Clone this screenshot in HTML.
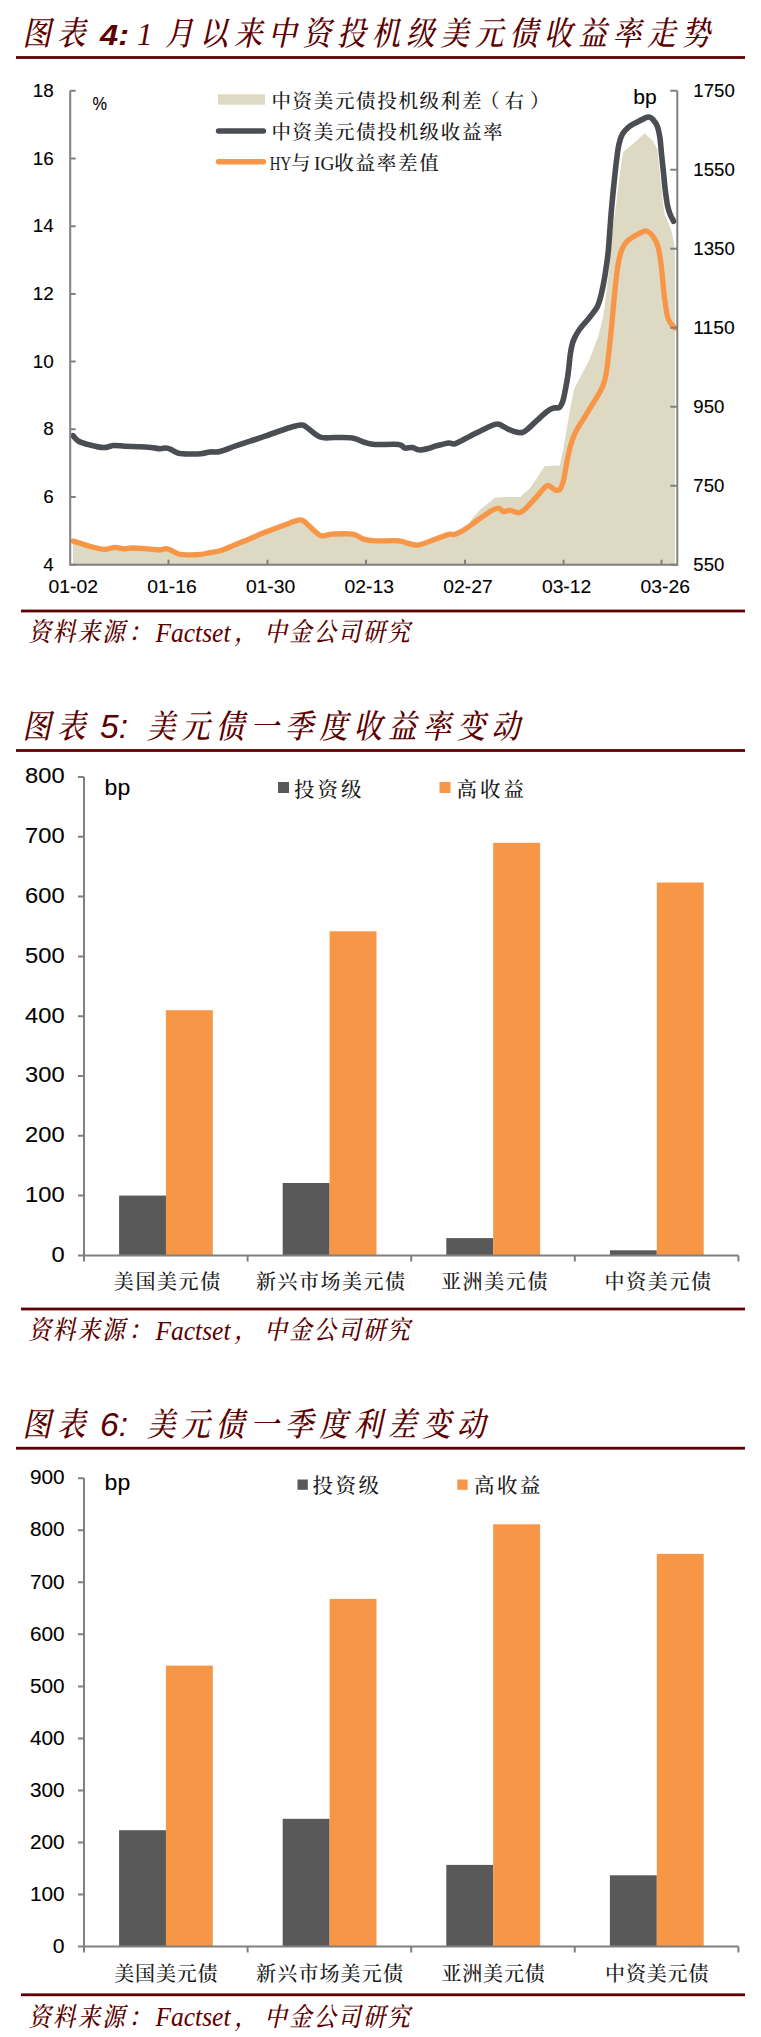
<!DOCTYPE html>
<html lang="zh-CN"><head><meta charset="utf-8"><title>美元债图表</title>
<style>
html,body{margin:0;padding:0;background:#fff;}
svg{display:block;}
.tt{font-family:'Liberation Serif','Noto Serif CJK SC',serif;font-size:33px;font-weight:500;font-style:italic;fill:#5c0000;}
.tn{font-family:'Liberation Sans','Noto Sans CJK SC',sans-serif;font-size:30px;font-style:italic;fill:#5c0000;}
.tl{font-family:'Liberation Serif','Noto Serif CJK SC',serif;font-size:31px;font-style:italic;fill:#5c0000;}
.st{font-family:'Liberation Serif','Noto Serif CJK SC',serif;font-size:26px;font-weight:500;font-style:italic;fill:#5c0000;}
.sl{font-family:'Liberation Serif','Noto Serif CJK SC',serif;font-size:26.5px;font-style:italic;fill:#5c0000;}
.ax{font-family:'Liberation Sans','Noto Sans CJK SC',sans-serif;font-size:17.5px;fill:#000;stroke:#000;stroke-width:0.1px;}
.bx{font-family:'Liberation Sans','Noto Sans CJK SC',sans-serif;font-size:20px;fill:#000;stroke:#000;stroke-width:0.1px;}
.lg{font-family:'Liberation Serif','Noto Serif CJK SC',serif;font-size:19.5px;font-weight:500;fill:#1a1a1a;}
.lb{font-family:'Liberation Serif','Noto Serif CJK SC',serif;font-size:20px;font-weight:500;fill:#1a1a1a;}
.lk{font-family:'Liberation Serif','Noto Serif CJK SC',serif;font-size:20.5px;font-weight:500;fill:#1a1a1a;}
</style></head>
<body>
<svg width="761" height="2037" viewBox="0 0 761 2037">
<rect width="761" height="2037" fill="#fff"/>
<text class="tt" transform="scale(0.86,1)" y="45.5" x="26.2 66.3">图表</text>
<text class="tn" y="44.5" x="100" textLength="29" lengthAdjust="spacingAndGlyphs" font-weight="bold">4:</text>
<text class="tl" y="44.5" x="137">1</text>
<text class="tt" transform="scale(0.86,1)" y="45.5" x="191.9 231.9 272.0 312.0 352.1 392.2 432.2 472.3 512.3 552.4 592.4 632.5 672.6 712.6 752.7 792.7">月以来中资投机级美元债收益率走势</text>
<rect x="16" y="56.1" width="729" height="2.8" fill="#5c0000"/>
<g id="c1">
<polygon fill="#ddd9c3" points="73.0,565.0 73.0,542.5 87.5,547.1 103.7,550.8 115.0,548.8 123.7,550.3 132.4,549.5 147.4,550.3 160.0,551.3 166.0,550.1 171.0,551.8 178.6,555.5 190.0,556.3 201.0,555.8 210.0,554.1 220.0,552.3 235.0,546.3 250.0,540.3 265.0,533.8 290.0,524.4 300.0,521.4 305.4,523.9 320.0,536.8 332.4,535.6 352.4,535.6 363.6,540.6 374.8,542.3 398.6,542.3 407.3,544.6 418.5,546.5 435.0,540.8 448.7,535.8 455.0,535.8 465.0,530.8 471.2,519.8 480.0,509.8 495.0,497.8 507.4,496.9 520.0,496.9 529.9,488.6 544.8,466.1 559.8,465.4 563.6,447.4 568.6,417.5 574.0,389.0 589.3,360.0 598.2,336.4 603.1,316.7 606.0,295.0 609.0,269.4 611.0,245.8 612.5,230.0 616.4,202.5 620.6,168.3 623.2,152.1 633.5,143.6 644.6,133.3 653.1,141.0 657.4,149.5 660.8,182.0 664.2,212.7 671.0,229.8 673.6,240.0 675.0,250.0 675.0,565.0"/>
<path d="M73.0 541.1C75.4 541.9 82.4 544.2 87.5 545.6C92.6 547.0 99.1 549.0 103.7 549.3C108.3 549.6 111.7 547.4 115.0 547.3C118.3 547.2 120.8 548.7 123.7 548.8C126.6 548.9 128.5 548.0 132.4 548.0C136.3 548.0 142.8 548.5 147.4 548.8C152.0 549.1 156.9 549.8 160.0 549.8C163.1 549.8 164.2 548.5 166.0 548.6C167.8 548.7 168.9 549.4 171.0 550.3C173.1 551.2 175.4 553.2 178.6 554.0C181.8 554.8 186.3 554.8 190.0 554.8C193.7 554.8 197.7 554.7 201.0 554.3C204.3 553.9 206.8 553.2 210.0 552.6C213.2 552.0 215.8 552.1 220.0 550.8C224.2 549.5 230.0 546.8 235.0 544.8C240.0 542.8 245.0 540.9 250.0 538.8C255.0 536.7 258.3 534.9 265.0 532.3C271.7 529.6 284.2 525.0 290.0 522.9C295.8 520.8 297.4 520.0 300.0 519.9C302.6 519.8 302.1 519.8 305.4 522.4C308.7 525.0 315.5 533.3 320.0 535.3C324.5 537.2 327.0 534.3 332.4 534.1C337.8 533.9 347.2 533.3 352.4 534.1C357.6 534.9 359.9 538.0 363.6 539.1C367.3 540.2 369.0 540.5 374.8 540.8C380.6 541.1 393.2 540.4 398.6 540.8C404.0 541.2 404.0 542.4 407.3 543.1C410.6 543.8 413.9 545.6 418.5 545.0C423.1 544.4 430.0 541.1 435.0 539.3C440.0 537.5 445.4 535.1 448.7 534.3C452.0 533.5 452.3 535.1 455.0 534.3C457.7 533.5 461.3 531.6 465.0 529.3C468.7 527.0 472.8 523.5 477.4 520.3C482.0 517.1 488.9 512.3 492.4 510.3C495.9 508.3 496.7 507.9 498.6 508.1C500.5 508.3 501.7 511.2 503.6 511.6C505.5 512.0 507.4 510.1 509.9 510.3C512.4 510.5 516.1 513.0 518.6 512.8C521.1 512.6 522.2 511.7 524.9 509.3C527.6 506.9 531.6 502.2 534.9 498.6C538.2 495.0 542.5 489.6 544.8 487.4C547.1 485.2 546.9 485.0 548.6 485.4C550.3 485.8 552.9 489.2 554.8 489.9C556.7 490.6 558.3 491.1 559.8 489.4C561.3 487.7 562.4 484.8 563.6 479.9C564.9 475.0 566.0 465.9 567.3 459.9C568.5 453.9 569.6 448.5 571.1 443.7C572.6 438.9 573.5 436.0 576.0 431.2C578.5 426.4 582.7 420.3 586.0 414.9C589.3 409.5 593.4 403.0 596.0 398.7C598.6 394.4 600.0 392.1 601.5 389.0C603.0 385.9 603.9 383.5 604.8 380.0C605.7 376.5 606.0 375.9 607.0 368.0C608.0 360.1 609.8 344.7 611.0 332.5C612.2 320.3 613.4 306.2 614.5 295.0C615.6 283.8 616.7 273.1 617.9 265.5C619.1 257.9 620.2 253.8 621.8 249.7C623.4 245.6 624.9 243.4 627.7 240.8C630.5 238.2 635.5 235.5 638.6 233.9C641.7 232.3 644.0 230.5 646.4 231.0C648.8 231.5 651.3 234.1 653.3 236.9C655.3 239.7 657.0 242.9 658.3 247.7C659.6 252.5 660.2 257.6 661.2 265.5C662.2 273.4 663.2 286.8 664.2 295.0C665.2 303.2 666.1 310.2 667.1 314.8C668.1 319.4 668.8 320.4 670.1 322.6C671.4 324.8 674.2 327.1 675.0 328.0" fill="none" stroke="#f79646" stroke-width="5.3" stroke-linecap="round" stroke-linejoin="round"/>
<path d="M73.0 435.7C74.0 436.6 75.9 439.6 78.7 441.2C81.5 442.8 85.8 443.9 90.0 445.0C94.2 446.1 99.8 447.4 103.7 447.5C107.7 447.6 110.2 445.7 113.7 445.5C117.2 445.3 120.6 446.0 125.0 446.2C129.4 446.4 135.7 446.5 140.0 446.7C144.3 446.9 147.7 447.2 151.0 447.5C154.3 447.8 157.5 448.6 160.0 448.7C162.5 448.8 164.2 447.9 166.0 448.0C167.8 448.1 168.9 448.6 171.0 449.5C173.1 450.4 175.4 452.4 178.6 453.2C181.8 453.9 186.3 453.9 190.0 454.0C193.7 454.1 197.7 454.0 201.0 453.7C204.3 453.4 206.8 452.4 210.0 452.0C213.2 451.6 215.8 452.5 220.0 451.5C224.2 450.5 230.0 447.9 235.0 446.2C240.0 444.5 245.0 442.9 250.0 441.2C255.0 439.5 258.3 438.5 265.0 436.2C271.7 433.9 284.0 429.4 290.0 427.5C296.0 425.6 298.5 425.1 301.2 425.0C303.9 424.9 303.1 425.0 306.2 427.0C309.3 429.0 315.2 435.2 320.0 437.0C324.8 438.8 329.6 437.3 335.0 437.5C340.4 437.7 347.4 437.2 352.4 438.0C357.4 438.8 361.2 441.4 365.0 442.5C368.8 443.6 369.4 444.2 375.0 444.5C380.6 444.8 393.6 443.9 398.6 444.5C403.6 445.1 402.5 447.5 404.8 448.0C407.1 448.5 409.8 447.2 412.3 447.5C414.8 447.8 416.9 449.9 419.8 450.0C422.8 450.1 427.5 448.6 430.0 448.0C432.5 447.4 431.9 447.0 435.0 446.2C438.1 445.4 445.4 443.4 448.7 443.0C452.0 442.6 451.4 444.8 455.0 443.7C458.6 442.6 465.0 438.7 470.0 436.2C475.0 433.7 480.8 430.7 485.0 428.7C489.2 426.7 492.6 425.1 495.0 424.4C497.4 423.7 497.3 423.7 499.4 424.4C501.5 425.1 504.6 427.4 507.4 428.7C510.2 430.0 513.5 431.4 516.0 432.0C518.5 432.6 520.5 432.8 522.4 432.4C524.3 432.0 524.9 431.5 527.4 429.4C529.9 427.3 534.1 423.0 537.4 420.0C540.7 417.0 544.7 413.2 547.4 411.2C550.1 409.2 551.6 408.6 553.6 408.0C555.6 407.4 557.8 408.6 559.3 407.5C560.8 406.4 561.8 404.1 562.8 401.2C563.8 398.3 564.5 393.9 565.3 390.0C566.1 386.1 566.9 381.7 567.5 378.0C568.1 374.3 568.3 372.3 568.8 368.0C569.3 363.7 569.8 356.8 570.6 352.2C571.4 347.6 572.0 344.2 573.5 340.4C575.0 336.6 576.8 333.3 579.4 329.5C582.0 325.7 586.3 321.5 589.3 317.7C592.3 313.9 595.2 310.7 597.2 306.9C599.2 303.1 599.8 300.3 601.1 295.0C602.4 289.7 603.9 282.2 605.0 275.3C606.1 268.4 607.3 259.9 608.0 253.7C608.7 247.5 608.8 244.8 609.3 238.0C609.8 231.2 610.5 221.5 611.2 212.7C612.0 203.9 612.9 193.9 613.8 185.4C614.7 176.9 615.5 168.3 616.4 161.5C617.2 154.7 617.9 149.0 618.9 144.4C619.9 139.8 620.8 137.0 622.4 134.2C624.0 131.3 625.9 129.3 628.3 127.3C630.7 125.3 634.0 123.8 636.9 122.2C639.8 120.6 643.4 118.8 645.4 117.9C647.4 117.1 647.5 116.8 648.8 117.1C650.1 117.4 651.7 118.0 653.1 119.6C654.5 121.2 656.3 123.5 657.4 126.5C658.5 129.5 659.2 132.9 659.9 137.6C660.6 142.3 661.0 149.0 661.6 154.7C662.2 160.4 662.8 166.0 663.4 171.7C664.0 177.4 664.4 183.1 665.1 188.8C665.8 194.5 666.8 201.6 667.6 205.9C668.5 210.2 669.2 211.9 670.2 214.5C671.2 217.1 673.0 220.2 673.6 221.3" fill="none" stroke="#4a4e52" stroke-width="5.6" stroke-linecap="round" stroke-linejoin="round"/>
<path d="M70.2 90.8V564.8H677.3V90.8" fill="none" stroke="#808080" stroke-width="2"/>
<path d="M70.2 90.8h5.5M70.2 158.5h5.5M70.2 226.2h5.5M70.2 293.9h5.5M70.2 361.6h5.5M70.2 429.3h5.5M70.2 497.1h5.5M70.2 564.8h5.5M677.3 90.8h-7M677.3 169.8h-7M677.3 248.8h-7M677.3 327.8h-7M677.3 406.8h-7M677.3 485.8h-7M677.3 564.8h-7M168.5 564.8v-5M267.5 564.8v-5M366 564.8v-5M465 564.8v-5M563.6 564.8v-5M661.5 564.8v-5" fill="none" stroke="#808080" stroke-width="2"/>
<text class="ax" y="96.8" x="32.7" textLength="21" lengthAdjust="spacingAndGlyphs">18</text>
<text class="ax" y="164.5" x="32.7" textLength="21" lengthAdjust="spacingAndGlyphs">16</text>
<text class="ax" y="232.2" x="32.7" textLength="21" lengthAdjust="spacingAndGlyphs">14</text>
<text class="ax" y="299.9" x="32.7" textLength="21" lengthAdjust="spacingAndGlyphs">12</text>
<text class="ax" y="367.6" x="32.7" textLength="21" lengthAdjust="spacingAndGlyphs">10</text>
<text class="ax" y="435.3" x="43.2" textLength="10.5" lengthAdjust="spacingAndGlyphs">8</text>
<text class="ax" y="503.1" x="43.2" textLength="10.5" lengthAdjust="spacingAndGlyphs">6</text>
<text class="ax" y="570.8" x="43.2" textLength="10.5" lengthAdjust="spacingAndGlyphs">4</text>
<text class="ax" y="96.8" x="693.3" textLength="41.5" lengthAdjust="spacingAndGlyphs">1750</text>
<text class="ax" y="175.8" x="693.3" textLength="41.5" lengthAdjust="spacingAndGlyphs">1550</text>
<text class="ax" y="254.8" x="693.3" textLength="41.5" lengthAdjust="spacingAndGlyphs">1350</text>
<text class="ax" y="333.8" x="693.3" textLength="41.5" lengthAdjust="spacingAndGlyphs">1150</text>
<text class="ax" y="412.8" x="693.3" textLength="31" lengthAdjust="spacingAndGlyphs">950</text>
<text class="ax" y="491.8" x="693.3" textLength="31" lengthAdjust="spacingAndGlyphs">750</text>
<text class="ax" y="570.8" x="693.3" textLength="31" lengthAdjust="spacingAndGlyphs">550</text>
<text class="ax" y="592.5" x="48.6" textLength="49.4" lengthAdjust="spacingAndGlyphs">01-02</text>
<text class="ax" y="592.5" x="147.3" textLength="49.4" lengthAdjust="spacingAndGlyphs">01-16</text>
<text class="ax" y="592.5" x="245.9" textLength="49.4" lengthAdjust="spacingAndGlyphs">01-30</text>
<text class="ax" y="592.5" x="344.6" textLength="49.4" lengthAdjust="spacingAndGlyphs">02-13</text>
<text class="ax" y="592.5" x="443.3" textLength="49.4" lengthAdjust="spacingAndGlyphs">02-27</text>
<text class="ax" y="592.5" x="541.9" textLength="49.4" lengthAdjust="spacingAndGlyphs">03-12</text>
<text class="ax" y="592.5" x="640.6" textLength="49.4" lengthAdjust="spacingAndGlyphs">03-26</text>
<text class="ax" y="110" x="92.5" textLength="14.5" lengthAdjust="spacingAndGlyphs">%</text>
<text class="ax" style="font-size:19.5px" y="104.2" x="633.2" textLength="23.4" lengthAdjust="spacingAndGlyphs">bp</text>
<rect x="218" y="94.3" width="47" height="10.4" fill="#ddd9c3"/>
<path d="M218.5 131H263.5" stroke="#4a4e52" stroke-width="5.4" stroke-linecap="round"/>
<path d="M218.5 161.8H263.5" stroke="#f79646" stroke-width="5.4" stroke-linecap="round"/>
<text class="lg" y="107.5" x="271.5 292.6 313.8 334.9 356.1 377.2 398.4 419.5 440.7 461.9 480 504.5 530">中资美元债投机级利差（右）</text>
<text class="lg" y="139" x="271.5 292.6 313.8 334.9 356.1 377.2 398.4 419.5 440.7 461.9 483.0">中资美元债投机级收益率</text>
<text class="lg" y="169.5"><tspan x="269.8" textLength="21.3" lengthAdjust="spacingAndGlyphs">HY</tspan><tspan x="291">与</tspan><tspan x="314" textLength="20.5" lengthAdjust="spacingAndGlyphs">IG</tspan><tspan x="334.3 355.6 376.8 398.1 419.3">收益率差值</tspan></text>
</g>
<rect x="21" y="609.6" width="724" height="2.8" fill="#5c0000"/>
<text class="st" transform="scale(0.86,1)" y="641.5" x="33.1 61.7 90.3 119.0 149.4">资料来源：</text>
<text class="sl" y="641.5" x="155.5" textLength="75" lengthAdjust="spacingAndGlyphs">Factset</text>
<text class="st" transform="scale(0.86,1)" y="641.5" x="272.7">，</text>
<text class="st" transform="scale(0.86,1)" y="641.5" x="307.6 336.2 364.8 393.4 422.0 450.6">中金公司研究</text>
<text class="tt" transform="scale(0.86,1)" y="738.5" x="26.2 66.3">图表</text>
<text class="tn" style="font-size:33.5px" y="738.0" x="100">5:</text>
<text class="tt" transform="scale(0.86,1)" y="738.5" x="170.9 211.0 251.0 291.1 331.2 371.2 411.3 451.3 491.4 531.5 571.5">美元债一季度收益率变动</text>
<rect x="16" y="749.1" width="729" height="2.8" fill="#5c0000"/>
<rect x="119.1" y="1195.6" width="46.9" height="59.8" fill="#595959"/>
<rect x="165.9" y="1010.2" width="46.9" height="245.2" fill="#f79646"/>
<rect x="282.7" y="1183.0" width="46.9" height="72.4" fill="#595959"/>
<rect x="329.6" y="931.3" width="46.9" height="324.1" fill="#f79646"/>
<rect x="446.3" y="1238.1" width="46.9" height="17.3" fill="#595959"/>
<rect x="493.2" y="842.8" width="46.9" height="412.6" fill="#f79646"/>
<rect x="609.9" y="1250.3" width="46.9" height="5.1" fill="#595959"/>
<rect x="656.8" y="882.5" width="46.9" height="372.9" fill="#f79646"/>
<path d="M84.0 777V1255.4H738.4" fill="none" stroke="#808080" stroke-width="2"/>
<path d="M84.0 777.0h-6M84.0 836.8h-6M84.0 896.6h-6M84.0 956.4h-6M84.0 1016.2h-6M84.0 1076.0h-6M84.0 1135.8h-6M84.0 1195.6h-6M84.0 1255.4h-6M84.0 1255.4v6M247.6 1255.4v6M411.2 1255.4v6M574.8 1255.4v6M738.4 1255.4v6" fill="none" stroke="#808080" stroke-width="2"/>
<text class="bx" style="font-size:21.5px" y="783.3" x="25.1" textLength="39.5" lengthAdjust="spacingAndGlyphs">800</text>
<text class="bx" style="font-size:21.5px" y="843.1" x="25.1" textLength="39.5" lengthAdjust="spacingAndGlyphs">700</text>
<text class="bx" style="font-size:21.5px" y="902.9" x="25.1" textLength="39.5" lengthAdjust="spacingAndGlyphs">600</text>
<text class="bx" style="font-size:21.5px" y="962.7" x="25.1" textLength="39.5" lengthAdjust="spacingAndGlyphs">500</text>
<text class="bx" style="font-size:21.5px" y="1022.5" x="25.1" textLength="39.5" lengthAdjust="spacingAndGlyphs">400</text>
<text class="bx" style="font-size:21.5px" y="1082.3" x="25.1" textLength="39.5" lengthAdjust="spacingAndGlyphs">300</text>
<text class="bx" style="font-size:21.5px" y="1142.1" x="25.1" textLength="39.5" lengthAdjust="spacingAndGlyphs">200</text>
<text class="bx" style="font-size:21.5px" y="1201.9" x="25.1" textLength="39.5" lengthAdjust="spacingAndGlyphs">100</text>
<text class="bx" style="font-size:21.5px" y="1261.7" x="51.4" textLength="13.2" lengthAdjust="spacingAndGlyphs">0</text>
<text class="bx" style="font-size:21.5px" y="795.3" x="104.6" textLength="25.6" lengthAdjust="spacingAndGlyphs">bp</text>
<text class="lb" y="1289" x="113.8 135.4 157.0 178.6 200.2">美国美元债</text>
<text class="lb" y="1289" x="256.0 277.6 299.1 320.6 342.1 363.6 385.1">新兴市场美元债</text>
<text class="lb" y="1289" x="441.0 462.6 484.2 505.8 527.4">亚洲美元债</text>
<text class="lb" y="1289" x="604.6 626.2 647.8 669.4 691.0">中资美元债</text>
<rect x="278" y="782" width="11" height="11" fill="#595959"/>
<rect x="439.5" y="782" width="11" height="11" fill="#f79646"/>
<text class="lk" y="796.5" x="294.0 317.5 341.0">投资级</text>
<text class="lk" y="796.5" x="456.5 480.0 503.5">高收益</text>
<rect x="21" y="1307.6" width="724" height="2.8" fill="#5c0000"/>
<text class="st" transform="scale(0.86,1)" y="1339.5" x="33.1 61.7 90.3 119.0 149.4">资料来源：</text>
<text class="sl" y="1339.5" x="155.5" textLength="75" lengthAdjust="spacingAndGlyphs">Factset</text>
<text class="st" transform="scale(0.86,1)" y="1339.5" x="272.7">，</text>
<text class="st" transform="scale(0.86,1)" y="1339.5" x="307.6 336.2 364.8 393.4 422.0 450.6">中金公司研究</text>
<text class="tt" transform="scale(0.86,1)" y="1436.5" x="26.2 66.3">图表</text>
<text class="tn" style="font-size:33.5px" y="1436.0" x="100">6:</text>
<text class="tt" transform="scale(0.86,1)" y="1436.5" x="170.9 211.0 251.0 291.1 331.2 371.2 411.3 451.3 491.4 531.5">美元债一季度利差变动</text>
<rect x="16" y="1446.8" width="729" height="2.8" fill="#5c0000"/>
<rect x="119.1" y="1830.2" width="46.9" height="116.4" fill="#595959"/>
<rect x="165.9" y="1665.6" width="46.9" height="281.0" fill="#f79646"/>
<rect x="282.7" y="1818.8" width="46.9" height="127.8" fill="#595959"/>
<rect x="329.6" y="1598.9" width="46.9" height="347.7" fill="#f79646"/>
<rect x="446.3" y="1864.9" width="46.9" height="81.7" fill="#595959"/>
<rect x="493.2" y="1524.3" width="46.9" height="422.3" fill="#f79646"/>
<rect x="609.9" y="1875.3" width="46.9" height="71.3" fill="#595959"/>
<rect x="656.8" y="1553.9" width="46.9" height="392.7" fill="#f79646"/>
<path d="M84.0 1478.2V1946.6H738.4" fill="none" stroke="#808080" stroke-width="2"/>
<path d="M84.0 1478.2h-6M84.0 1530.2h-6M84.0 1582.3h-6M84.0 1634.3h-6M84.0 1686.4h-6M84.0 1738.4h-6M84.0 1790.5h-6M84.0 1842.5h-6M84.0 1894.6h-6M84.0 1946.6h-6M84.0 1946.6v6M247.6 1946.6v6M411.2 1946.6v6M574.8 1946.6v6M738.4 1946.6v6" fill="none" stroke="#808080" stroke-width="2"/>
<text class="bx" style="font-size:19.5px" y="1484.4" x="29.9" textLength="34.7" lengthAdjust="spacingAndGlyphs">900</text>
<text class="bx" style="font-size:19.5px" y="1536.4" x="29.9" textLength="34.7" lengthAdjust="spacingAndGlyphs">800</text>
<text class="bx" style="font-size:19.5px" y="1588.5" x="29.9" textLength="34.7" lengthAdjust="spacingAndGlyphs">700</text>
<text class="bx" style="font-size:19.5px" y="1640.5" x="29.9" textLength="34.7" lengthAdjust="spacingAndGlyphs">600</text>
<text class="bx" style="font-size:19.5px" y="1692.6" x="29.9" textLength="34.7" lengthAdjust="spacingAndGlyphs">500</text>
<text class="bx" style="font-size:19.5px" y="1744.6" x="29.9" textLength="34.7" lengthAdjust="spacingAndGlyphs">400</text>
<text class="bx" style="font-size:19.5px" y="1796.7" x="29.9" textLength="34.7" lengthAdjust="spacingAndGlyphs">300</text>
<text class="bx" style="font-size:19.5px" y="1848.7" x="29.9" textLength="34.7" lengthAdjust="spacingAndGlyphs">200</text>
<text class="bx" style="font-size:19.5px" y="1900.8" x="29.9" textLength="34.7" lengthAdjust="spacingAndGlyphs">100</text>
<text class="bx" style="font-size:19.5px" y="1952.8" x="52.8" textLength="11.8" lengthAdjust="spacingAndGlyphs">0</text>
<text class="bx" style="font-size:21.5px" y="1489.5" x="104.6" textLength="25.6" lengthAdjust="spacingAndGlyphs">bp</text>
<text class="lb" y="1980.5" x="114.2 135.1 155.9 176.8 197.6">美国美元债</text>
<text class="lb" y="1980.5" x="256.1 277.3 298.4 319.5 340.6 361.7 382.9">新兴市场美元债</text>
<text class="lb" y="1980.5" x="441.4 462.2 483.1 503.9 524.8">亚洲美元债</text>
<text class="lb" y="1980.5" x="605.0 625.9 646.7 667.5 688.4">中资美元债</text>
<rect x="297.5" y="1479.5" width="10.3" height="10.3" fill="#595959"/>
<rect x="457.3" y="1479.5" width="10.3" height="10.3" fill="#f79646"/>
<text class="lk" y="1492.5" x="312.5 335.5 358.5">投资级</text>
<text class="lk" y="1492.5" x="474.0 497.0 520.0">高收益</text>
<rect x="21" y="1993.3999999999999" width="724" height="2.8" fill="#5c0000"/>
<text class="st" transform="scale(0.86,1)" y="2025.8" x="33.1 61.7 90.3 119.0 149.4">资料来源：</text>
<text class="sl" y="2025.8" x="155.5" textLength="75" lengthAdjust="spacingAndGlyphs">Factset</text>
<text class="st" transform="scale(0.86,1)" y="2025.8" x="272.7">，</text>
<text class="st" transform="scale(0.86,1)" y="2025.8" x="307.6 336.2 364.8 393.4 422.0 450.6">中金公司研究</text>
</svg>
</body></html>
